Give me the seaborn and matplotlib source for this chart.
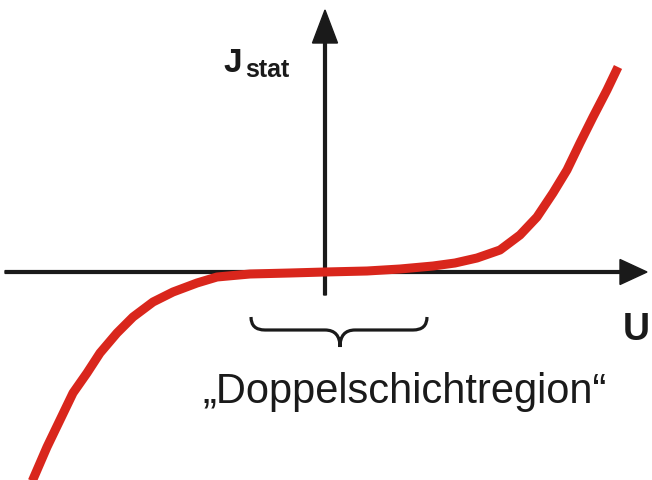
import numpy as np
import pandas as pd
import matplotlib
matplotlib.use("Agg")
import matplotlib.pyplot as plt
from matplotlib.path import Path
from matplotlib.patches import PathPatch
import seaborn as sns

# static current density vs. voltage
u_vals = [-2.94, -2.78, -2.65, -2.52, -2.38, -2.25, -2.08, -1.92, -1.72, -1.52,
          -1.28, -1.08, -0.75, -0.35, 0.00, 0.42, 0.75, 1.08, 1.30, 1.52,
          1.75, 1.95, 2.12, 2.28, 2.42, 2.55, 2.68, 2.82, 2.93]
j_vals = [-2.12, -1.75, -1.48, -1.21, -1.01, -0.81, -0.61, -0.45, -0.30, -0.20,
          -0.11, -0.05, -0.02, -0.01, 0.00, 0.01, 0.03, 0.06, 0.09, 0.14,
          0.22, 0.37, 0.55, 0.79, 1.02, 1.29, 1.55, 1.82, 2.05]

label_j = "J"
label_j_sub = "stat"
label_u = "U"
region_label = "\u201eDoppelschichtregion\u201c"
region_span = [-0.74, 1.02]   # U range of the double layer region

sns.set_style("white")
plt.rcParams['font.family'] = ['Liberation Sans', 'DejaVu Sans']

fig = plt.figure(figsize=(6.52, 4.80), dpi=100)
ax = fig.add_axes([0, 0, 1, 1])
ax.set_xlim(-3.25, 3.27)
ax.set_ylim(-2.08, 2.72)
ax.axis('off')

ink = '#1a1a1a'
# axes arrows
ax.arrow(-3.20, 0, 6.42, 0, width=0.028, head_width=0.25, head_length=0.27,
         length_includes_head=True, color=ink, zorder=2)
ax.arrow(0, -0.23, 0, 2.85, width=0.028, head_width=0.25, head_length=0.33,
         length_includes_head=True, color=ink, zorder=2)

df = pd.DataFrame({'U': u_vals, 'J': j_vals})
sns.lineplot(data=df, x='U', y='J', sort=False, color='#d9261c', lw=6.5,
             ax=ax, zorder=3, solid_capstyle='butt', solid_joinstyle='round')

# curly brace under the flat region
x0, x1 = region_span
xm = 0.5 * (x0 + x1) + 0.01
yt, yh, yb = -0.45, -0.58, -0.75
verts = [(x0, yt), (x0, yh), (x0 + 0.14, yh),
         (xm - 0.15, yh),
         (xm, yh), (xm, yb),
         (xm, yh), (xm + 0.15, yh),
         (x1 - 0.14, yh),
         (x1, yh), (x1, yt)]
codes = [Path.MOVETO, Path.CURVE3, Path.CURVE3,
         Path.LINETO,
         Path.CURVE3, Path.CURVE3,
         Path.CURVE3, Path.CURVE3,
         Path.LINETO,
         Path.CURVE3, Path.CURVE3]
ax.add_patch(PathPatch(Path(verts, codes), fill=False, lw=2.3, ec=ink,
                       capstyle='butt'))

ax.text(-1.02, 2.00, label_j, fontsize=24, fontweight='bold', color=ink,
        ha='left', va='baseline')
ax.text(-0.80, 1.95, label_j_sub, fontsize=18, fontweight='bold', color=ink,
        ha='left', va='baseline')
ax.text(2.98, -0.68, label_u, fontsize=27, fontweight='bold', color=ink,
        ha='left', va='baseline')
ax.text(0.80, -1.31, region_label, fontsize=30, color=ink,
        ha='center', va='baseline')

fig.savefig('out.png', dpi=100)
